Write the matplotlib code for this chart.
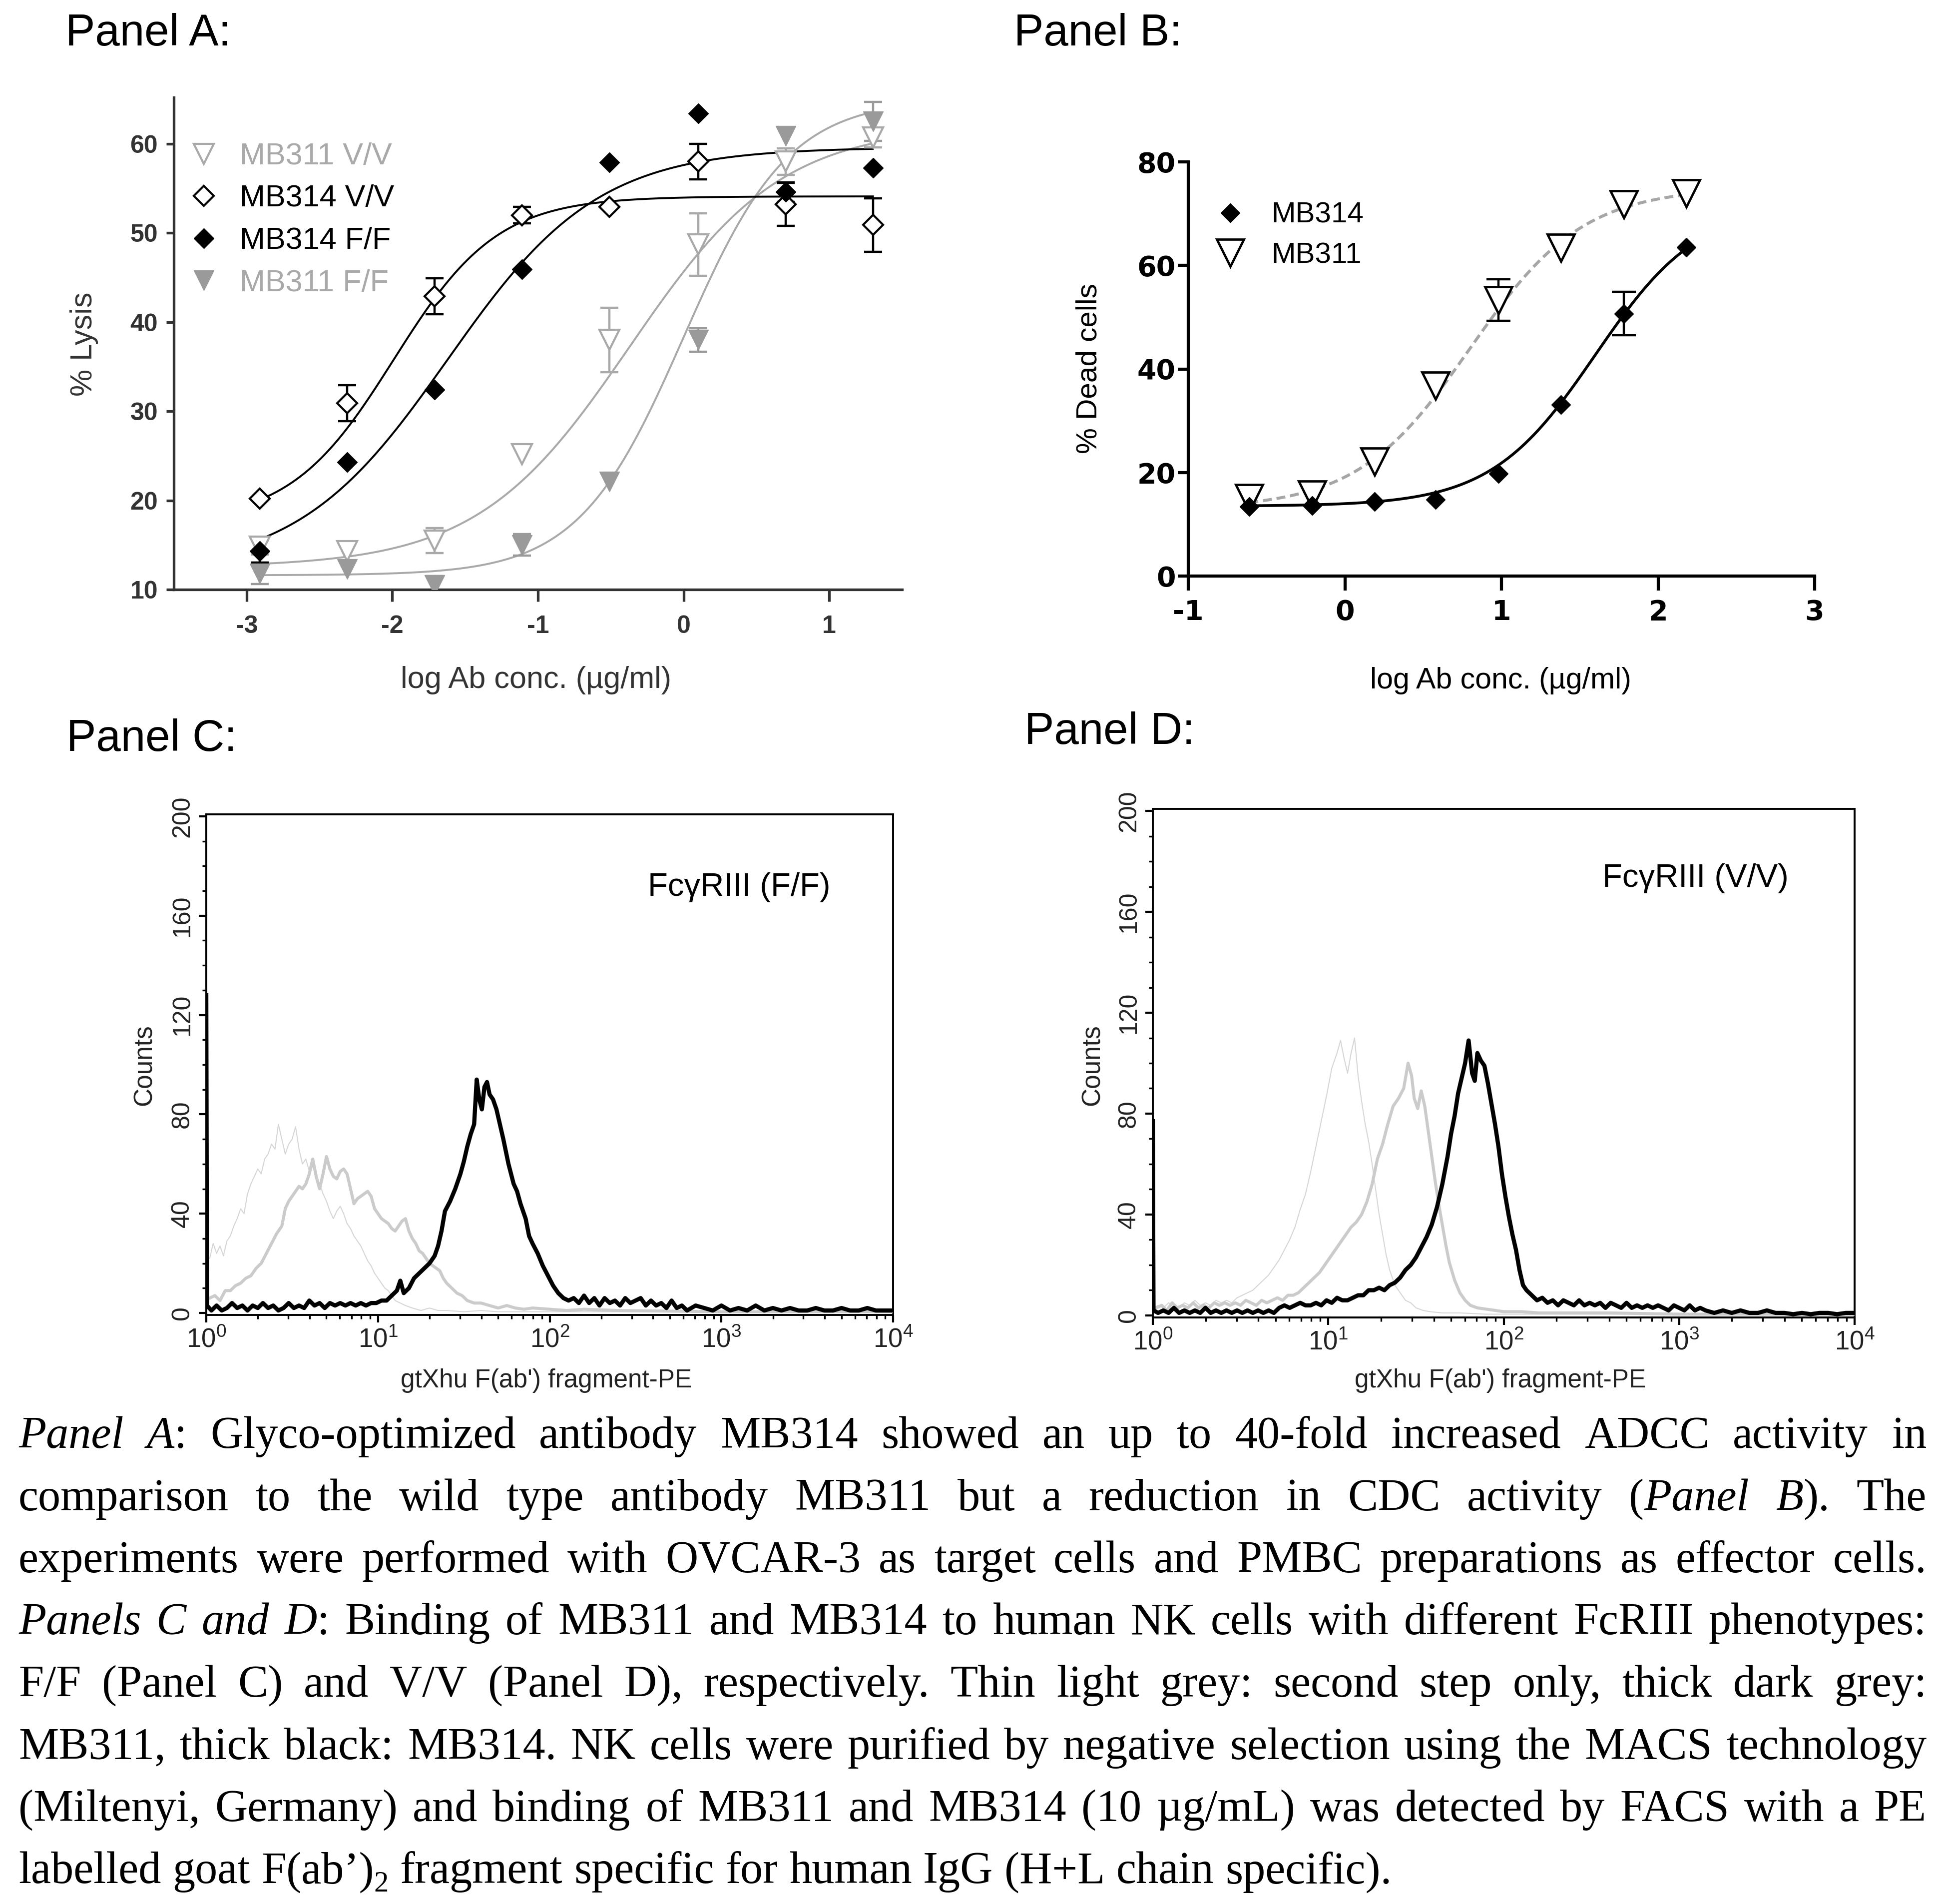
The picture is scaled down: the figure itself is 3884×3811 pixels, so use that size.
import matplotlib
matplotlib.use("Agg")
import matplotlib.pyplot as plt
from matplotlib.lines import Line2D
from matplotlib.ticker import FixedLocator, LogLocator, NullFormatter
import numpy as np

# ------------------------------------------------------------------
# lienzo: 3884 x 3811 px
# ------------------------------------------------------------------
W, H = 3884, 3811
DPI = 100
fig = plt.figure(figsize=(W / DPI, H / DPI), dpi=DPI)
SANS = "Liberation Sans"


def fx(px):
    return px / W


def fy(py):
    return 1 - py / H


def rect(left, top, right, bottom):
    return [fx(left), fy(bottom), (right - left) / W, (bottom - top) / H]


# ------------------------------------------------------------------
# datos Panel A (ADCC)
# ------------------------------------------------------------------
logA = [-2.91, -2.31, -1.71, -1.11, -0.51, 0.10, 0.70, 1.30]
A_311VV = [14.8, 14.3, 15.5, 25.2, 38.0, 48.7, 58.0, 60.7]
A_311VV_err = [0.9, 0.0, 1.4, 0.0, 3.6, 3.5, 1.5, 1.1]
A_314VV = [20.2, 30.9, 42.9, 52.0, 52.9, 58.0, 53.2, 50.9]
A_314VV_err = [0.0, 2.0, 2.0, 0.9, 0.0, 2.0, 2.4, 3.0]
A_314FF = [14.3, 24.3, 32.4, 45.9, 57.9, 63.4, 54.6, 57.3]
A_314FF_err = [1.25, 0.0, 0.0, 0.0, 0.0, 0.0, 1.1, 0.0]
A_311FF = [11.8, 12.3, 10.5, 15.0, 22.1, 38.0, 60.9, 62.5]
A_311FF_err = [1.2, 0.0, 1.0, 1.2, 0.0, 1.3, 0.0, 2.2]

# ajuste sigmoide: [abajo, arriba, logEC50, pendiente]
fitA_311VV = [12.5, 62.0, -0.37, 0.83]
fitA_314VV = [17.5, 54.1, -1.99, 1.22]
fitA_314FF = [12.0, 59.6, -1.62, 0.84]
fitA_311FF = [11.6, 65.0, 0.00, 1.20]

# ------------------------------------------------------------------
# datos Panel B (CDC)
# ------------------------------------------------------------------
logB = [-0.61, -0.21, 0.19, 0.58, 0.98, 1.38, 1.78, 2.18]
B_314 = [13.4, 13.6, 14.4, 14.8, 19.8, 33.1, 50.7, 63.5]
B_314_err = [0, 0, 0, 0, 0, 0, 4.2, 0]
B_311 = [15.1, 15.7, 22.1, 36.8, 53.3, 63.4, 71.8, 73.9]
B_311_err = [0, 0, 0, 0, 4.0, 0, 0, 0]
fitB_314 = [13.5, 72.0, 1.60, 1.30]
fitB_311 = [13.0, 75.0, 0.80, 1.20]

# ------------------------------------------------------------------
# datos Panel C (FACS F/F): log10 fluorescencia, cuentas
# ------------------------------------------------------------------
C_thin_log = [0.02, 0.04, 0.06, 0.08, 0.10, 0.12, 0.14, 0.16, 0.18, 0.20,
              0.22, 0.24, 0.26, 0.28, 0.30, 0.32, 0.34, 0.36, 0.38, 0.40,
              0.42, 0.44, 0.46, 0.48, 0.50, 0.52, 0.54, 0.56, 0.58, 0.60,
              0.62, 0.64, 0.66, 0.68, 0.70, 0.72, 0.74, 0.76, 0.78, 0.80,
              0.82, 0.84, 0.86, 0.88, 0.90, 0.92, 0.94, 0.96, 0.98, 1.00,
              1.02, 1.04, 1.06, 1.08, 1.10, 1.13, 1.16, 1.20, 1.25, 1.30,
              1.35, 1.40, 1.50, 1.60, 1.70, 1.90, 2.20, 2.60, 3.00, 3.50, 4.00]
C_thin_cnt = [22, 28, 24, 27, 23, 29, 31, 35, 38, 42,
              40, 48, 52, 55, 58, 56, 62, 64, 68, 66,
              76, 70, 64, 68, 70, 75, 66, 60, 62, 57,
              59, 55, 52, 48, 45, 41, 38, 41, 43, 40,
              36, 34, 31, 29, 27, 24, 21, 19, 16, 14,
              12, 10, 9, 7, 5, 4, 3, 2, 1, 2,
              1, 1, 0.5, 1, 0.5, 0.5, 0.5, 0.5, 0.5, 0.5, 0.5]

C_thick_log = [0.02, 0.05, 0.08, 0.11, 0.14, 0.17, 0.20, 0.23, 0.26, 0.29,
               0.32, 0.35, 0.38, 0.41, 0.44, 0.46, 0.48, 0.50, 0.52, 0.54,
               0.56, 0.58, 0.60, 0.62, 0.64, 0.66, 0.68, 0.70, 0.72, 0.74,
               0.76, 0.78, 0.80, 0.82, 0.84, 0.86, 0.88, 0.90, 0.92, 0.94,
               0.96, 0.98, 1.00, 1.02, 1.04, 1.06, 1.08, 1.10, 1.12, 1.14,
               1.16, 1.18, 1.20, 1.22, 1.24, 1.26, 1.28, 1.30, 1.32, 1.34,
               1.36, 1.38, 1.40, 1.43, 1.46, 1.49, 1.52, 1.56, 1.60, 1.65,
               1.70, 1.75, 1.80, 1.85, 1.90, 2.00, 2.10, 2.20, 2.40, 3.00, 4.00]
C_thick_cnt = [6, 7, 5, 9, 9, 11, 12, 14, 15, 18,
               20, 24, 28, 32, 35, 42, 45, 47, 49, 51,
               50, 52, 56, 62, 55, 50, 56, 63, 58, 55,
               54, 57, 58, 56, 50, 44, 46, 47, 48, 49,
               47, 42, 40, 38, 37, 36, 34, 33, 35, 37,
               38, 33, 30, 28, 25, 24, 22, 20, 19, 18,
               17, 14, 12, 10, 8, 7, 5, 4, 4, 3,
               2, 3, 2, 1.5, 2, 1.5, 1, 1.5, 1, 0.5, 0.5]

C_black_log = [0.000, 0.004, 0.03, 0.06, 0.09, 0.12, 0.15, 0.18, 0.21, 0.24,
               0.27, 0.30, 0.33, 0.36, 0.39, 0.42, 0.45, 0.48, 0.51, 0.54,
               0.57, 0.60, 0.63, 0.66, 0.69, 0.72, 0.75, 0.78, 0.81, 0.84,
               0.87, 0.90, 0.93, 0.96, 0.99, 1.02, 1.05, 1.08, 1.11, 1.13,
               1.15, 1.18, 1.21, 1.24, 1.27, 1.30, 1.33, 1.35, 1.37, 1.39,
               1.42, 1.45, 1.48, 1.50, 1.52, 1.54, 1.56, 1.575, 1.59, 1.605,
               1.62, 1.635, 1.65, 1.67, 1.69, 1.71, 1.73, 1.76, 1.79, 1.81,
               1.83, 1.86, 1.88, 1.90, 1.93, 1.96, 1.99, 2.02, 2.05, 2.08,
               2.11, 2.14, 2.17, 2.20, 2.23, 2.26, 2.29, 2.32, 2.35, 2.38,
               2.41, 2.44, 2.47, 2.50, 2.53, 2.56, 2.59, 2.62, 2.65, 2.68,
               2.71, 2.74, 2.77, 2.80, 2.85, 2.90, 2.95, 3.00, 3.05, 3.10,
               3.15, 3.20, 3.25, 3.30, 3.35, 3.40, 3.45, 3.50, 3.55, 3.60,
               3.65, 3.70, 3.75, 3.80, 3.85, 3.90, 3.95, 4.00]
C_black_cnt = [128, 3, 1, 3, 1, 2, 4, 2, 3, 1,
               3, 2, 4, 2, 3, 1, 2, 4, 2, 3,
               2, 5, 3, 4, 2, 4, 3, 4, 3, 4,
               3, 4, 3, 4, 4, 5, 5, 7, 9, 13,
               8, 10, 14, 16, 18, 20, 23, 27, 33, 41,
               45, 50, 56, 61, 67, 72, 76, 94, 86, 82,
               91, 93, 88, 86, 82, 76, 70, 60, 52, 49,
               44, 38, 31, 28, 24, 19, 15, 11, 8, 6,
               5, 6, 4, 7, 4, 6, 3, 6, 4, 5,
               3, 6, 4, 5, 6, 3, 5, 3, 4, 2,
               5, 2, 3, 1, 3, 2, 1, 3, 1, 2,
               1, 3, 1, 2, 1, 2, 1, 1, 2, 1,
               1, 2, 1, 1, 2, 1, 1, 1]

# ------------------------------------------------------------------
# datos Panel D (FACS V/V)
# ------------------------------------------------------------------
D_thin_log = [0.000, 0.004, 0.03, 0.06, 0.09, 0.12, 0.15, 0.18, 0.21, 0.24,
              0.27, 0.30, 0.33, 0.36, 0.39, 0.42, 0.45, 0.48, 0.51, 0.54,
              0.57, 0.60, 0.63, 0.66, 0.69, 0.72, 0.75, 0.78, 0.81, 0.84,
              0.87, 0.90, 0.93, 0.96, 0.99, 1.02, 1.05, 1.07, 1.09, 1.11,
              1.13, 1.15, 1.17, 1.19, 1.21, 1.23, 1.25, 1.27, 1.29, 1.31,
              1.33, 1.35, 1.38, 1.41, 1.44, 1.47, 1.50, 1.54, 1.58, 1.65,
              1.75, 1.90, 2.20, 2.60, 3.00, 4.00]
D_thin_cnt = [95, 3, 4, 3, 5, 4, 3, 5, 4, 6,
              4, 5, 4, 6, 5, 6, 5, 7, 8, 9,
              10, 12, 14, 16, 19, 22, 26, 30, 35, 42,
              48, 57, 67, 77, 87, 98, 104, 109, 102, 96,
              104, 110, 95, 85, 76, 69, 60, 50, 40, 32,
              24, 18, 12, 9, 6, 5, 3, 2, 1.5, 1,
              1, 0.5, 0.5, 0.5, 0.5, 0.5]

D_thick_log = [0.02, 0.05, 0.08, 0.11, 0.14, 0.17, 0.20, 0.23, 0.26, 0.29,
               0.32, 0.35, 0.38, 0.41, 0.44, 0.47, 0.50, 0.53, 0.56, 0.59,
               0.62, 0.65, 0.68, 0.71, 0.74, 0.77, 0.80, 0.83, 0.86, 0.89,
               0.92, 0.95, 0.98, 1.01, 1.04, 1.07, 1.10, 1.13, 1.16, 1.19,
               1.22, 1.25, 1.28, 1.31, 1.34, 1.37, 1.40, 1.43, 1.455, 1.475,
               1.49, 1.51, 1.53, 1.55, 1.57, 1.59, 1.61, 1.63, 1.65, 1.67,
               1.69, 1.72, 1.75, 1.78, 1.81, 1.85, 1.90, 1.95, 2.00, 2.10,
               2.20, 2.40, 2.60, 3.00, 4.00]
D_thick_cnt = [3, 4, 2, 5, 3, 4, 3, 5, 3, 4,
               3, 5, 4, 5, 4, 5, 4, 6, 5, 4,
               6, 5, 6, 7, 6, 8, 8, 9, 11, 13,
               15, 17, 20, 23, 26, 29, 32, 35, 37, 40,
               45, 52, 62, 68, 76, 83, 86, 90, 100, 95,
               86, 82, 89, 83, 73, 63, 53, 44, 36, 28,
               21, 14, 9, 6, 4, 3, 2.5, 2, 1.5, 1.5,
               1, 1, 1, 0.5, 0.5]

D_black_log = [0.000, 0.004, 0.03, 0.06, 0.09, 0.12, 0.15, 0.18, 0.21, 0.24,
               0.27, 0.30, 0.33, 0.36, 0.39, 0.42, 0.45, 0.48, 0.51, 0.54,
               0.57, 0.60, 0.63, 0.66, 0.69, 0.72, 0.75, 0.78, 0.81, 0.84,
               0.87, 0.90, 0.93, 0.96, 0.99, 1.02, 1.05, 1.08, 1.11, 1.14,
               1.17, 1.20, 1.23, 1.26, 1.29, 1.32, 1.35, 1.38, 1.41, 1.44,
               1.47, 1.50, 1.53, 1.56, 1.59, 1.62, 1.65, 1.68, 1.70, 1.72,
               1.74, 1.76, 1.78, 1.80, 1.82, 1.835, 1.85, 1.87, 1.89, 1.91,
               1.93, 1.95, 1.97, 1.99, 2.01, 2.03, 2.05, 2.07, 2.09, 2.11,
               2.13, 2.16, 2.19, 2.22, 2.25, 2.28, 2.31, 2.34, 2.37, 2.40,
               2.43, 2.46, 2.49, 2.52, 2.55, 2.58, 2.61, 2.64, 2.67, 2.70,
               2.73, 2.76, 2.79, 2.82, 2.85, 2.88, 2.91, 2.94, 2.97, 3.00,
               3.03, 3.06, 3.09, 3.12, 3.15, 3.20, 3.25, 3.30, 3.35, 3.40,
               3.45, 3.50, 3.55, 3.60, 3.65, 3.70, 3.75, 3.80, 3.85, 3.90,
               3.95, 4.00]
D_black_cnt = [77, 2, 1, 2, 1, 3, 1, 2, 1, 2,
               1, 3, 1, 2, 1, 2, 1, 2, 1, 2,
               1, 2, 1, 2, 1, 3, 4, 3, 4, 5,
               4, 4, 5, 4, 6, 5, 7, 6, 6, 7,
               8, 8, 10, 10, 11, 10, 12, 13, 15, 18,
               20, 23, 27, 31, 36, 43, 52, 63, 72, 79,
               88, 94, 100, 109, 96, 93, 104, 101, 99, 92,
               84, 76, 67, 56, 47, 39, 32, 26, 18, 12,
               10, 8, 6, 7, 5, 6, 4, 6, 5, 4,
               6, 4, 5, 4, 5, 3, 5, 4, 3, 5,
               3, 4, 3, 4, 3, 4, 3, 2, 4, 3,
               2, 4, 2, 3, 2, 1, 2, 1, 2, 1,
               1, 2, 1, 1, 0.5, 1, 0.5, 1, 1, 0.5,
               1, 1]

# ------------------------------------------------------------------
# texto del pie
# ------------------------------------------------------------------
CAPTION = [
    [("Panel A", "i"), (": Glyco-optimized antibody MB314 showed an up to 40-fold increased ADCC activity in", "n")],
    [("comparison to the wild type antibody MB311 but a reduction in CDC activity (", "n"), ("Panel B", "i"), ("). The", "n")],
    [("experiments were performed with OVCAR-3 as target cells and PMBC preparations as effector cells.", "n")],
    [("Panels C and D", "i"), (": Binding of MB311 and MB314 to human NK cells with different FcRIII phenotypes:", "n")],
    [("F/F (Panel C) and V/V (Panel D), respectively. Thin light grey: second step only, thick dark grey:", "n")],
    [("MB311, thick black: MB314. NK cells were purified by negative selection using the MACS technology", "n")],
    [("(Miltenyi, Germany) and binding of MB311 and MB314 (10 µg/mL) was detected by FACS with a PE", "n")],
    [("labelled goat F(ab’)", "n"), ("2", "sub"), (" fragment specific for human IgG (H+L chain specific).", "n")],
]


def sigmoid(x, p):
    b, t, x0, h = p
    return b + (t - b) / (1 + 10 ** ((x0 - x) * h))


def plot_series(ax, x, y, err, fit, color, marker, ms, mfc, mec, mew, ls="-", lw=2.8, capsize=13):
    x = np.asarray(x)
    y = np.asarray(y)
    err = np.asarray(err, dtype=float)
    xx = np.linspace(x.min(), x.max(), 300)
    ax.plot(xx, sigmoid(xx, fit), color=color, lw=lw, ls=ls, zorder=2)
    m = err > 0
    ax.errorbar(x[m], y[m], yerr=err[m], fmt="none", ecolor=mec, elinewidth=3.2,
                capsize=capsize, capthick=3.2, zorder=3)
    ax.plot(x, y, ls="none", marker=marker, ms=ms, mfc=mfc, mec=mec, mew=mew, zorder=4)


# ==================================================================
# Panel A
# ==================================================================
GA = "#333333"
axA = fig.add_axes(rect(348, 195, 1806, 1180))
axA.set_xlim(-3.5, 1.5)
axA.set_ylim(10, 65.2)
for s in ["top", "right"]:
    axA.spines[s].set_visible(False)
for s in ["left", "bottom"]:
    axA.spines[s].set_linewidth(3.8)
    axA.spines[s].set_color(GA)

c_vv = "#a9a9a9"
c_ff = "#9a9a9a"
plot_series(axA, logA, A_311VV, A_311VV_err, fitA_311VV, c_vv, "v", 29, "white", c_vv, 3.0)
plot_series(axA, logA, A_311FF, A_311FF_err, fitA_311FF, c_vv, "v", 29, c_ff, c_ff, 1.0)
plot_series(axA, logA, A_314VV, A_314VV_err, fitA_314VV, "black", "D", 20, "white", "black", 3.0)
plot_series(axA, logA, A_314FF, A_314FF_err, fitA_314FF, "black", "D", 20, "black", "black", 1.0)

axA.set_xticks([-3, -2, -1, 0, 1], labels=["-3", "-2", "-1", "0", "1"],
               fontsize=36, fontweight="bold", family=SANS, color=GA)
axA.set_yticks([10, 20, 30, 40, 50, 60], labels=["10", "20", "30", "40", "50", "60"],
               fontsize=36, fontweight="bold", family=SANS, color=GA)
axA.tick_params(axis="x", length=17, width=3.8, color=GA, pad=20)
axA.tick_params(axis="y", length=11, width=3.8, color=GA, pad=12)

hA = [Line2D([], [], ls="none", marker="v", ms=29, mfc="white", mec=c_vv, mew=3.0),
      Line2D([], [], ls="none", marker="D", ms=20, mfc="white", mec="black", mew=3.0),
      Line2D([], [], ls="none", marker="D", ms=20, mfc="black", mec="black", mew=1.0),
      Line2D([], [], ls="none", marker="v", ms=29, mfc=c_ff, mec=c_ff, mew=1.0)]
axA.legend(hA, ["MB311 V/V", "MB314 V/V", "MB314 F/F", "MB311 F/F"],
           loc="upper left", bbox_to_anchor=(fx(377), fy(285)), bbox_transform=fig.transFigure,
           frameon=False, borderpad=0, borderaxespad=0, handlelength=1.0,
           handletextpad=0.68, labelspacing=0.45, numpoints=1,
           prop={"family": SANS, "size": 44},
           labelcolor=[c_vv, "black", "black", c_vv])

fig.text(fx(168), fy(689), "% Lysis", rotation=90, ha="center", va="center",
         fontsize=44, family=SANS, color=GA)
fig.text(fx(1073), fy(1362), "log Ab conc. (µg/ml)", ha="center", va="center",
         fontsize=44, family=SANS, color=GA)

# ==================================================================
# Panel B
# ==================================================================
axB = fig.add_axes(rect(2379, 324, 3633, 1153))
axB.set_xlim(-1, 3)
axB.set_ylim(0, 80)
for s in ["top", "right"]:
    axB.spines[s].set_visible(False)
for s in ["left", "bottom"]:
    axB.spines[s].set_linewidth(4.5)

plot_series(axB, logB, B_311, B_311_err, fitB_311, "#a6a6a6", "v", 39, "white", "black", 3.4,
            ls=(0, (3, 1.6)), lw=4.3, capsize=17)
plot_series(axB, logB, B_314, B_314_err, fitB_314, "black", "D", 19, "black", "black", 1.0,
            lw=4.0, capsize=17)

axB.set_xticks([-1, 0, 1, 2, 3], labels=["-1", "0", "1", "2", "3"],
               fontsize=40, fontweight="bold", family="DejaVu Sans")
axB.set_yticks([0, 20, 40, 60, 80], labels=["0", "20", "40", "60", "80"],
               fontsize=40, fontweight="bold", family="DejaVu Sans")
axB.tick_params(axis="x", length=21, width=4.5, pad=12)
axB.tick_params(axis="y", length=15, width=4.5, pad=3)

hB = [Line2D([], [], ls="none", marker="D", ms=19, mfc="black", mec="black", mew=1.0),
      Line2D([], [], ls="none", marker="v", ms=39, mfc="white", mec="black", mew=3.4)]
axB.legend(hB, ["MB314", "MB311"], loc="upper left",
           bbox_to_anchor=(fx(2434), fy(404)), bbox_transform=fig.transFigure,
           frameon=False, borderpad=0, borderaxespad=0, handlelength=1.0,
           handletextpad=0.9, labelspacing=0.46, numpoints=1,
           prop={"family": SANS, "size": 42})

fig.text(fx(2180), fy(738), "% Dead cells", rotation=90, ha="center", va="center",
         fontsize=42, family=SANS)
fig.text(fx(3004), fy(1363), "log Ab conc. (µg/ml)", ha="center", va="center",
         fontsize=42.5, family=SANS)


# ==================================================================
# Paneles C y D (histogramas FACS)
# ==================================================================
def facs_axes(box):
    ax = fig.add_axes(box)
    ax.set_xscale("log")
    ax.set_xlim(1, 1e4)
    ax.set_ylim(-0.8, 200.8)
    for s in ax.spines.values():
        s.set_linewidth(2.8)
    ax.set_xticks([1, 10, 100, 1000, 10000],
                  labels=[r"$\mathregular{10^{%d}}$" % i for i in range(5)],
                  fontsize=38, family=SANS, color="#222222")
    ax.xaxis.set_minor_locator(LogLocator(base=10, subs=range(2, 10)))
    ax.xaxis.set_minor_formatter(NullFormatter())
    ax.set_yticks([0, 40, 80, 120, 160, 200],
                  labels=["0", "40", "80", "120", "160", "200"],
                  fontsize=36, family=SANS, color="#222222", rotation=90, va="center")
    ax.yaxis.set_minor_locator(FixedLocator(range(0, 201, 10)))
    ax.tick_params(which="major", length=11, width=3.0, pad=7)
    ax.tick_params(which="minor", length=6, width=2.4)
    return ax


def draw_hist(ax, thin, thick, black):
    ax.plot(10 ** np.asarray(thin[0]), thin[1], color="#d6d6d6", lw=1.5, zorder=2)
    ax.plot(10 ** np.asarray(thick[0]), thick[1], color="#cbcbcb", lw=4.4, zorder=3)
    ax.plot(10 ** np.asarray(black[0]), black[1], color="black", lw=6.0, zorder=4)


axC = facs_axes(rect(413, 1630, 1788, 2632))
draw_hist(axC, (C_thin_log, C_thin_cnt), (C_thick_log, C_thick_cnt), (C_black_log, C_black_cnt))
axD = facs_axes(rect(2308, 1619, 3713, 2637))
draw_hist(axD, (D_thin_log, D_thin_cnt), (D_thick_log, D_thick_cnt), (D_black_log, D_black_cnt))

fig.text(fx(1297), fy(1793), "Fc\u03b3RIII (F/F)", ha="left", va="baseline", fontsize=47, family=SANS)
fig.text(fx(3208), fy(1775), "Fc\u03b3RIII (V/V)", ha="left", va="baseline", fontsize=47, family=SANS)
for xc in (289, 2187):
    fig.text(fx(xc), fy(2132), "Counts", rotation=90, ha="center", va="center",
             fontsize=37, family=SANS, color="#222222")
for xc in (1094, 3004):
    fig.text(fx(xc), fy(2764), "gtXhu F(ab') fragment-PE", ha="center", va="center",
             fontsize=37, family=SANS, color="#222222")

# titulos de panel
for txt, xl, yb in [("Panel A:", 131, 91), ("Panel B:", 2030, 91),
                    ("Panel C:", 133, 1503), ("Panel D:", 2051, 1489)]:
    fig.text(fx(xl), fy(yb), txt, ha="left", va="baseline", fontsize=64, family=SANS)

# ==================================================================
# pie de figura justificado
# ==================================================================
CAP_SIZE = 65
CAP_X0, CAP_X1 = 37, 3857
CAP_Y0, CAP_DY = 2898, 124.5
renderer = fig.canvas.get_renderer()


def seg_props(style):
    fs = CAP_SIZE * 0.65 if style == "sub" else CAP_SIZE
    return dict(fontsize=fs, family="Liberation Serif",
                style="italic" if style == "i" else "normal")


def seg_width(text, style):
    t = fig.text(0, 0, text, **seg_props(style))
    w = t.get_window_extent(renderer).width
    t.remove()
    return w


def split_words(segs):
    words = [[]]
    for text, style in segs:
        for k, part in enumerate(text.split(" ")):
            if k > 0:
                words.append([])
            if part:
                words[-1].append((part, style))
    return [w for w in words if w]


space_w = seg_width("a a", "n") - seg_width("aa", "n")
for i, segs in enumerate(CAPTION):
    words = split_words(segs)
    widths = [[seg_width(t, s) for t, s in w] for w in words]
    total = sum(sum(ws) for ws in widths)
    last = i == len(CAPTION) - 1
    gap = space_w if last else (CAP_X1 - CAP_X0 - total) / (len(words) - 1)
    x = CAP_X0
    yb = CAP_Y0 + i * CAP_DY
    for w, ws in zip(words, widths):
        for (t, s), sw in zip(w, ws):
            yy = yb + (0.18 * CAP_SIZE / 0.72 if s == "sub" else 0)
            fig.text(fx(x), fy(yy), t, ha="left", va="baseline", **seg_props(s))
            x += sw
        x += gap

fig.savefig("out.png", dpi=DPI)
